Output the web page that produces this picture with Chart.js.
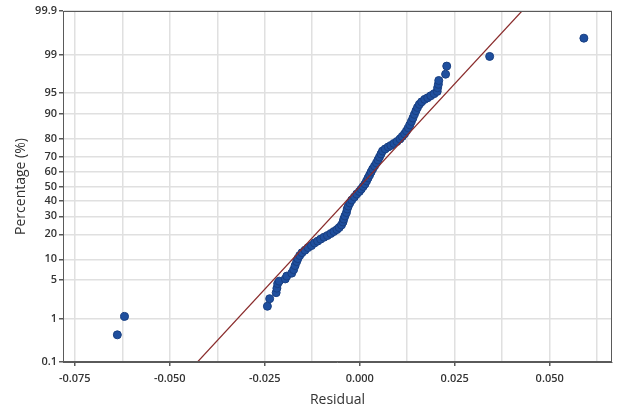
<!DOCTYPE html>
<html><head><meta charset="utf-8">
<script src="https://cdn.jsdelivr.net/npm/chart.js@4/dist/chart.umd.min.js"></script>
<style>html,body{margin:0;padding:0;background:#fff}canvas{display:block}</style>
</head><body>
<canvas id="c" width="617" height="408"></canvas>
<script>
// Residuals (sorted), and their plotted percentage
const residuals = [
 -0.0638,-0.0619,-0.0243,-0.0237,-0.0220,-0.0218,-0.0216,-0.0212,-0.0196,-0.0192,
 -0.0179,-0.0174,-0.0170,-0.0166,-0.0163,-0.0158,-0.0152,-0.0144,-0.0136,-0.0127,
 -0.0119,-0.0111,-0.0103,-0.0094,-0.0085,-0.0076,-0.0068,-0.0060,-0.0054,-0.0048,
 -0.0044,-0.0042,-0.0039,-0.0035,-0.0033,-0.0030,-0.0026,-0.0021,-0.0014,-0.0008,
 -0.0001,0.0004,0.0009,0.0014,0.0018,0.0022,0.0026,0.0030,0.0034,0.0039,
 0.0044,0.0048,0.0052,0.0056,0.0060,0.0067,0.0075,0.0082,0.0090,0.0098,
 0.0106,0.0112,0.0118,0.0123,0.0128,0.0132,0.0136,0.0140,0.0144,0.0148,
 0.0152,0.0157,0.0163,0.0171,0.0179,0.0187,0.0196,0.0204,0.0205,0.0207,
 0.0208,0.0226,0.0229,0.0342,0.0590
];
const percentages = [
 0.45,1.11,1.75,2.41,3.08,3.67,4.36,4.78,5.18,5.73,
 6.35,7.16,8.18,9.30,10.2,11.2,12.2,13.1,14.1,14.9,
 16.0,16.8,17.7,18.6,19.4,20.4,21.4,22.4,23.5,24.9,
 26.6,28.3,30.2,32.3,34.6,36.5,38.6,40.6,42.7,44.7,
 46.5,48.2,50.0,51.8,53.9,56.0,58.0,60.1,62.1,64.1,
 66.1,68.0,69.8,71.7,73.4,74.6,75.7,76.5,77.6,78.6,
 79.9,81.1,82.3,83.6,84.9,86.1,87.4,88.6,89.8,90.9,
 91.8,92.6,93.2,93.75,94.1,94.5,94.9,95.3,95.9,96.4,
 96.9,97.6,98.3,98.9,99.55
];
// Fitted normal reference line (two end points)
const fitResiduals = [-0.0427, 0.0427];
const fitPercentages = [0.1, 99.9];
// Axis ticks
const yTickPercents = [0.1,1,5,10,20,30,40,50,60,70,80,90,95,99,99.9];
const xTickLabels = [-0.075,-0.050,-0.025,0.000,0.025,0.050];
const xRange = [-0.0781, 0.0664];

function probit(p){
 const a=[-3.969683028665376e+01,2.209460984245205e+02,-2.759285104469687e+02,1.383577518672690e+02,-3.066479806614716e+01,2.506628277459239e+00];
 const b=[-5.447609879822406e+01,1.615858368580409e+02,-1.556989798598866e+02,6.680131188771972e+01,-1.328068155288572e+01];
 const c=[-7.784894002430293e-03,-3.223964580411365e-01,-2.400758277161838e+00,-2.549732539343734e+00,4.374664141464968e+00,2.938163982698783e+00];
 const d=[7.784695709041462e-03,3.224671290700398e-01,2.445134137142996e+00,3.754408661907416e+00];
 const pl=0.02425, ph=1-pl; let q,r;
 if(p<pl){q=Math.sqrt(-2*Math.log(p));return (((((c[0]*q+c[1])*q+c[2])*q+c[3])*q+c[4])*q+c[5])/((((d[0]*q+d[1])*q+d[2])*q+d[3])*q+1);}
 if(p<=ph){q=p-0.5;r=q*q;return (((((a[0]*r+a[1])*r+a[2])*r+a[3])*r+a[4])*r+a[5])*q/(((((b[0]*r+b[1])*r+b[2])*r+b[3])*r+b[4])*r+1);}
 q=Math.sqrt(-2*Math.log(1-p));return -(((((c[0]*q+c[1])*q+c[2])*q+c[3])*q+c[4])*q+c[5])/((((d[0]*q+d[1])*q+d[2])*q+d[3])*q+1);
}
const zOf = pct => probit(pct/100);

// minor vertical grid: halfway between labelled ticks
const xGridValues = [];
for (let i=0;i<xTickLabels.length;i++){
  xGridValues.push({v:xTickLabels[i], lab:true});
  const next = i<xTickLabels.length-1 ? xTickLabels[i+1] : xTickLabels[i]+(xTickLabels[1]-xTickLabels[0]);
  xGridValues.push({v:(xTickLabels[i]+next)/2, lab:false});
}

const pts = residuals.map((r,i)=>({x:r, y:zOf(percentages[i])}));
const fit = fitResiduals.map((r,i)=>({x:r, y:zOf(fitPercentages[i])}));

const frame = {
  id:'frame',
  afterDatasetsDraw(chart){
    const {ctx, chartArea:a} = chart;
    ctx.save();
    ctx.strokeStyle='#5a5a5a'; ctx.lineWidth=1;
    ctx.strokeRect(a.left+0.5, a.top+0.5, a.right-a.left-1, a.bottom-a.top-1);
    ctx.restore();
  }
};

const tickFont = {family:'"Open Sans", "Noto Sans", sans-serif', size:11, weight:'600'};
const titleFont = {family:'"Open Sans", "Noto Sans", sans-serif', size:14, weight:'normal'};

new Chart(document.getElementById('c'), {
  data:{
    datasets:[
      {type:'line', data:fit, borderColor:'#8a2c2c', borderWidth:1.2, pointRadius:0, fill:false, order:0},
      {type:'scatter', data:pts, backgroundColor:'#1f4f9e', borderColor:'#183f82', borderWidth:1, pointRadius:4, order:1}
    ]
  },
  options:{
    responsive:false, animation:false, devicePixelRatio:1,
    layout:{padding:{top:11, right:2, left:13, bottom:0}},
    plugins:{legend:{display:false}, tooltip:{enabled:false}},
    scales:{
      x:{
        type:'linear', min:xRange[0], max:xRange[1],
        afterBuildTicks: s => { s.ticks = xGridValues.filter(g=>g.v>=xRange[0]&&g.v<=xRange[1]).map(g=>({value:g.v, lab:g.lab})); },
        afterFit: s => { s.height = 46; s.paddingLeft = 0; s.paddingRight = 0; },
        ticks:{ autoSkip:false, maxRotation:0, color:'#333', font:tickFont, padding:6,
          callback:(v,i,t)=> t[i].lab ? v.toFixed(3) : '' },
        grid:{ color:'#e0e0e0', lineWidth:1.5, tickLength:4,
          tickColor: ctx => (ctx.tick && ctx.tick.lab) ? '#5a5a5a' : 'rgba(0,0,0,0)', drawTicks:true },
        border:{display:true, color:'#5a5a5a', width:1},
        title:{display:true, text:'Residual', color:'#333', font:titleFont, padding:{top:2,bottom:0}}
      },
      y:{
        type:'linear', min:zOf(yTickPercents[0]), max:zOf(yTickPercents[yTickPercents.length-1]),
        afterBuildTicks: s => { s.ticks = yTickPercents.map(p=>({value:zOf(p)})); },
        afterFit: s => { s.width = 50; s.paddingTop = 0; s.paddingBottom = 0; },
        ticks:{ autoSkip:false, color:'#333', font:tickFont, padding:2,
          callback:(v,i)=> String(yTickPercents[i]) },
        grid:{ color:'#e0e0e0', lineWidth:1.5, tickLength:4, tickColor:'#5a5a5a' },
        border:{display:true, color:'#5a5a5a', width:1},
        title:{display:true, text:'Percentage (%)', color:'#333', font:titleFont, padding:{top:0,bottom:4}}
      }
    }
  },
  plugins:[frame]
});
</script>
</body></html>
